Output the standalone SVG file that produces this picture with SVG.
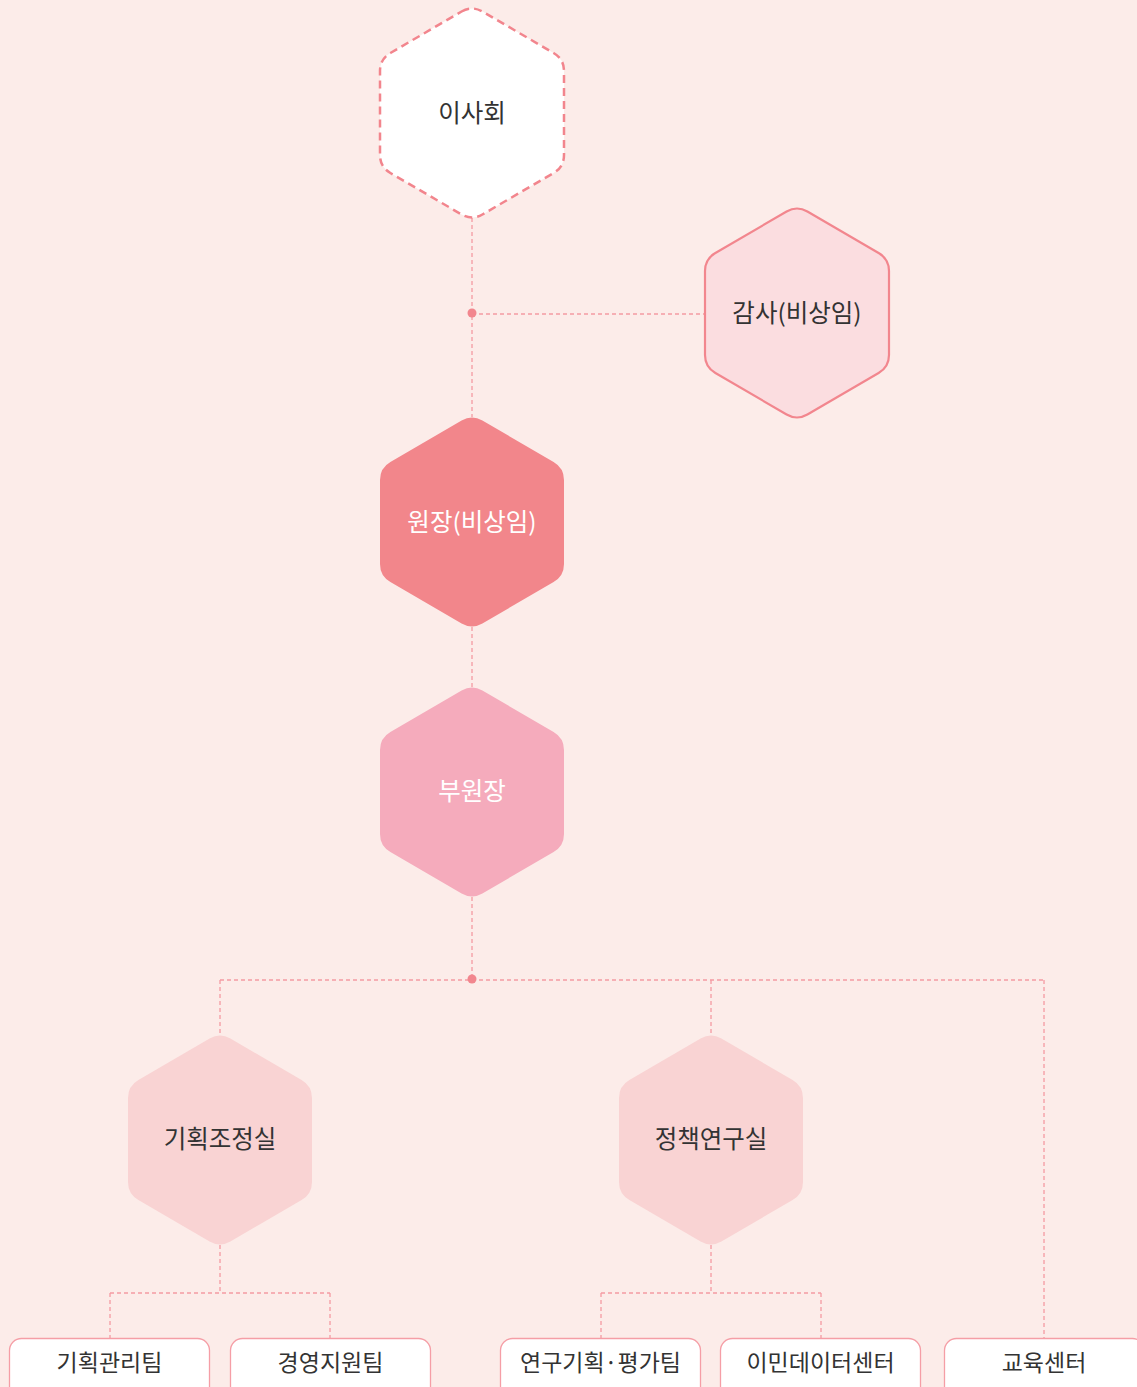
<svg xmlns="http://www.w3.org/2000/svg" width="1137" height="1387" viewBox="0 0 1137 1387">
<style>
.t{font-family:"Noto Sans CJK KR","Noto Sans",sans-serif;font-size:24.5px;fill:#333;text-anchor:middle;dominant-baseline:central}
.w{fill:#fff}
.bt{font-size:23px}
.c{fill:none;stroke:#f49aa2;stroke-width:1.3;stroke-dasharray:4 3}
.box{fill:#fff;stroke:#f59ea6;stroke-width:1.3}
</style>
<defs>
<path id="hex" d="M -10.4,-101.5 Q 0,-107.5 10.4,-101.5 L 81.6,-60 Q 92,-54 92,-42 L 92,42 Q 92,54 81.6,60 L 10.4,101.5 Q 0,107.5 -10.4,101.5 L -81.6,60 Q -92,54 -92,42 L -92,-42 Q -92,-54 -81.6,-60 Z"/>
</defs>
<rect width="1137" height="1387" fill="#fcece9"/>
<g id="connectors">
<path class="c" d="M472 218V417M472 314H705M472 627V687M472 897V980M220 980H1044M220 980V1035M711 980V1035M1044 980V1338M220 1245V1293M110 1293H330M110 1293V1338M330 1293V1338M711 1245V1293M601 1293H821M601 1293V1338M821 1293V1338"/>
<circle cx="472" cy="313" r="4.5" fill="#f2868e"/>
<circle cx="472" cy="979" r="4.5" fill="#f2868e"/>
</g>
<g id="board">
<use href="#hex" transform="translate(472,113)" fill="#fff" stroke="#f2858d" stroke-width="2.5" stroke-dasharray="8 5"/>
<text class="t" x="472" y="111">이사회</text>
</g>
<g id="audit">
<use href="#hex" transform="translate(797,313)" fill="#fbdde0" stroke="#f2868e" stroke-width="2.2"/>
<text class="t" x="797" y="311">감사(비상임)</text>
</g>
<g id="president">
<use href="#hex" transform="translate(472,522)" fill="#f2868b"/>
<text class="t w" x="472" y="520">원장(비상임)</text>
</g>
<g id="vice">
<use href="#hex" transform="translate(472,792)" fill="#f5abbc"/>
<text class="t w" x="472" y="789">부원장</text>
</g>
<g id="planning">
<use href="#hex" transform="translate(220,1140)" fill="#f9d3d3"/>
<text class="t" x="220" y="1137">기획조정실</text>
</g>
<g id="policy">
<use href="#hex" transform="translate(711,1140)" fill="#f9d3d3"/>
<text class="t" x="711" y="1137">정책연구실</text>
</g>
<g id="team1"><rect class="box" x="9.5" y="1338.5" width="200" height="60" rx="12"/><text class="t bt" x="109.5" y="1361">기획관리팀</text></g>
<g id="team2"><rect class="box" x="230.5" y="1338.5" width="200" height="60" rx="12"/><text class="t bt" x="330.5" y="1361">경영지원팀</text></g>
<g id="team3"><rect class="box" x="500.5" y="1338.5" width="200" height="60" rx="12"/><text class="t bt" x="600.5" y="1361">연구기획·평가팀</text></g>
<g id="team4"><rect class="box" x="720.5" y="1338.5" width="200" height="60" rx="12"/><text class="t bt" x="820.5" y="1361">이민데이터센터</text></g>
<g id="team5"><rect class="box" x="944.5" y="1338.5" width="200" height="60" rx="12"/><text class="t bt" x="1044" y="1361">교육센터</text></g>
</svg>
